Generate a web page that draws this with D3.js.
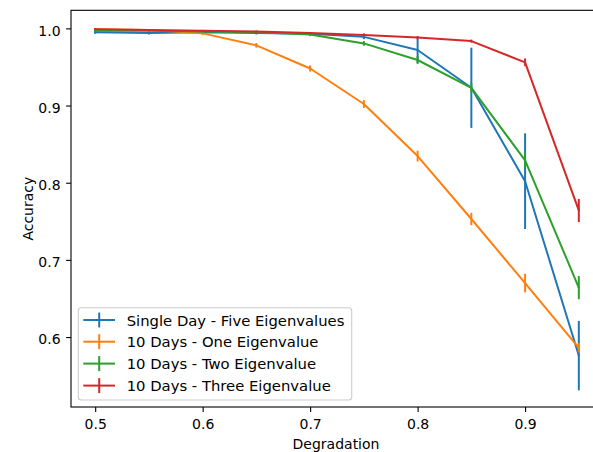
<!DOCTYPE html>
<html><head><meta charset="utf-8">
<script src="https://cdn.jsdelivr.net/npm/d3@7"></script>
<style>body{margin:0;background:#fff}svg{display:block}text{font-family:"DejaVu Sans",sans-serif}</style>
</head><body>
<svg id="c" width="593" height="452"></svg>
<script>
const xValues = [0.5,0.55,0.6,0.65,0.7,0.75,0.8,0.85,0.9,0.95];
const seriesNames = ["Single Day - Five Eigenvalues","10 Days - One Eigenvalue","10 Days - Two Eigenvalue","10 Days - Three Eigenvalue"];
const singleDayFive = [0.995,0.994,0.995,0.994,0.993,0.989,0.972,0.923,0.802,0.576];
const singleDayFiveErr = [0.002,0.002,0.002,0.002,0.002,0.003,0.017,0.052,0.062,0.045];
const tenDaysOne = [0.999,0.998,0.9935,0.978,0.948,0.902,0.8345,0.753,0.670,0.586];
const tenDaysOneErr = [0.001,0.001,0.002,0.003,0.004,0.005,0.007,0.008,0.012,0.006];
const tenDaysTwo = [0.997,0.997,0.996,0.995,0.992,0.9805,0.959,0.923,0.829,0.664];
const tenDaysTwoErr = [0.001,0.001,0.001,0.002,0.002,0.003,0.005,0.006,0.010,0.015];
const tenDaysThree = [0.999,0.998,0.997,0.996,0.994,0.9915,0.988,0.9835,0.956,0.764];
const tenDaysThreeErr = [0.001,0.001,0.001,0.001,0.001,0.002,0.002,0.002,0.005,0.015];
const xTicks = [0.5,0.6,0.7,0.8,0.9];
const yTicks = [0.6,0.7,0.8,0.9,1.0];
const colors = ["#1f77b4","#ff7f0e","#2ca02c","#d62728"];

const series = [
  {name: seriesNames[0], y: singleDayFive, e: singleDayFiveErr, c: colors[0]},
  {name: seriesNames[1], y: tenDaysOne, e: tenDaysOneErr, c: colors[1]},
  {name: seriesNames[2], y: tenDaysTwo, e: tenDaysTwoErr, c: colors[2]},
  {name: seriesNames[3], y: tenDaysThree, e: tenDaysThreeErr, c: colors[3]}
];

const L = 71, R = 603, T = 10.3, B = 407;
const x = d3.scaleLinear().domain([0.4775, 0.9725]).range([L, R]);
const y = d3.scaleLinear().domain([0.5094, 1.0234]).range([B, T]);

const svg = d3.select("#c");
const g = svg.append("g");

// data
const line = d3.line().x((d,i)=>x(xValues[i])).y(d=>y(d));
series.forEach(s=>{
  const sg = g.append("g");
  sg.append("path").datum(s.y).attr("d", line).attr("fill","none")
    .attr("stroke", s.c).attr("stroke-width",2).attr("stroke-linejoin","round").attr("stroke-linecap","square");
  sg.selectAll("line.err").data(s.y).enter().append("line")
    .attr("x1",(d,i)=>x(xValues[i])).attr("x2",(d,i)=>x(xValues[i]))
    .attr("y1",(d,i)=>y(d - s.e[i])).attr("y2",(d,i)=>y(d + s.e[i]))
    .attr("stroke", s.c).attr("stroke-width",2);
});

// axes
const xAxis = d3.axisBottom(x).tickValues(xTicks).tickFormat(d3.format(".1f")).tickSize(4.9).tickPadding(7.5);
const yAxis = d3.axisLeft(y).tickValues(yTicks).tickFormat(d3.format(".1f")).tickSize(4.9).tickPadding(5.5);
const gx = svg.append("g").attr("transform",`translate(0,${B})`).call(xAxis);
const gy = svg.append("g").attr("transform",`translate(${L},0)`).call(yAxis);
[gx,gy].forEach(a=>{
  a.select(".domain").remove();
  a.selectAll(".tick line").attr("stroke","#000").attr("stroke-width",1.1);
  a.selectAll(".tick text").attr("fill","#000").style("font-size","14px").style("font-family","DejaVu Sans");
});
gy.selectAll(".tick text").attr("dy","0.48em");
// spines
svg.append("rect").attr("x",L).attr("y",T).attr("width",R-L).attr("height",B-T)
  .attr("fill","none").attr("stroke","#000").attr("stroke-width",1.1);

// labels
svg.append("text").attr("x",336).attr("y",448.5).attr("text-anchor","middle")
  .style("font-size","14px").text("Degradation");
svg.append("text").attr("transform",`translate(33.3,${(T+B)/2}) rotate(-90)`).attr("text-anchor","middle")
  .style("font-size","14px").text("Accuracy");

// legend
const lg = svg.append("g");
lg.append("rect").attr("x",78.3).attr("y",307.7).attr("width",273.4).attr("height",92.3).attr("rx",3)
  .attr("fill","#fff").attr("fill-opacity",0.8).attr("stroke","#ccc").attr("stroke-width",1.1);
const rowY = [320, 341.7, 363.6, 385.6];
series.forEach((s,i)=>{
  const ry = rowY[i];
  lg.append("line").attr("x1",83.3).attr("x2",115).attr("y1",ry).attr("y2",ry).attr("stroke",s.c).attr("stroke-width",2);
  lg.append("line").attr("x1",99.2).attr("x2",99.2).attr("y1",ry-7.5).attr("y2",ry+7.5).attr("stroke",s.c).attr("stroke-width",2);
  lg.append("text").attr("x",126.7).attr("y",ry).attr("dy","0.38em").style("font-size","14.8px").text(s.name);
});
</script>
</body></html>
